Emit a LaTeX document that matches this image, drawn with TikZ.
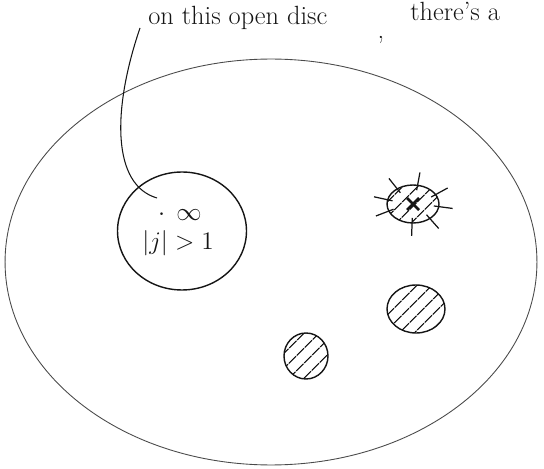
\documentclass[tikz,border=0pt]{standalone}
\usepackage{tikz}
\usetikzlibrary{positioning,shapes.geometric,patterns.meta,calc}
\definecolor{SketchInk}{HTML}{151515}
\definecolor{SketchFaint}{HTML}{4A4A4A}
\tikzset{
  disc/.style={ellipse,draw=SketchInk,line width=0.8pt,inner sep=0pt},
  pole/.style={disc,pattern={Lines[angle=45,distance=6.5pt,line width=0.8pt]},
               pattern color=SketchInk},
  scribble/.style={font=\fontsize{15}{18}\selectfont,text=SketchInk,inner sep=0pt},
  ray/.style={draw=SketchInk,line width=0.7pt}
}

\begin{document}
\begin{tikzpicture}[x=0.02cm,y=-0.02cm]
        \useasboundingbox (0,0) rectangle (544,469);
        \clip (0,0) rectangle (544,469);
        % the plane and the open disc
        \node[disc,draw=SketchFaint,line width=0.5pt,
              minimum width=10.64cm,minimum height=8.12cm] (plane) at (271,262) {};
        \node[disc,minimum width=2.58cm,minimum height=2.36cm] (open) at (182,231) {};
        \node[scribble] (infty) at (180,215) {$\cdot\;\,\infty$};
        \node[scribble] (cond) at (178,243) {$|j|>1$};
        % hatched blobs
        \node[pole,minimum width=1.04cm,minimum height=0.76cm] (sing) at (413,204) {};
        \node[pole,minimum width=1.16cm,minimum height=0.96cm] (blobA) at (416,309) {};
        \node[pole,minimum width=0.88cm,minimum height=0.92cm] (blobB) at (306,356) {};
        \foreach \a in {-127,-80,-30,8,50,92,158,-167}
          \draw[ray] ($(sing)+(\a:40 and 32)$) -- ($(sing)+(\a:21 and 14)$);
        \draw[SketchInk,line width=1.6pt]
          ($(sing)+(-6,-6)$) -- ($(sing)+(6,6)$)
          ($(sing)+(-6,6)$) -- ($(sing)+(6,-6)$);
        % note on top
        \node[scribble,anchor=base west] (note) at (148,25) {on this open disc};
        \node[scribble] (comma) at (381,40) {,};
        \node[scribble,anchor=base west] (there) at (410,21) {there's a};
        \coordinate (tip) at (157,198);
        \draw[SketchInk,line width=0.6pt]
          ($(note.base west)+(-8,3)$) .. controls (112,110) and (112,185) .. (tip);
      \end{tikzpicture}
\end{document}
